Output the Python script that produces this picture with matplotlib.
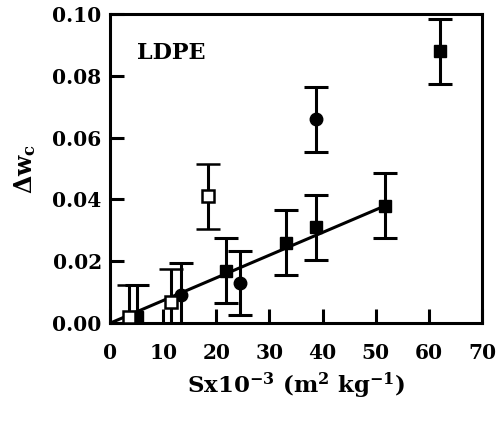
import numpy as np
import matplotlib
matplotlib.use("Agg")
from matplotlib import pyplot as plt

# open squares
open_sq_x = [3.5, 11.5, 18.5]
open_sq_y = [0.002, 0.007, 0.041]
# filled squares
sq_x = [5.0, 21.8, 33.2, 38.8, 51.8, 62.0]
sq_y = [0.002, 0.017, 0.026, 0.031, 0.038, 0.088]
# filled circles
circ_x = [13.3, 24.5, 38.8]
circ_y = [0.009, 0.013, 0.066]
err = 0.0105

fit_x = [0.0, 51.8]
fit_y = [0.0, 0.038]

plt.rcParams["font.family"] = ["DejaVu Serif"]
plt.rcParams["font.weight"] = "bold"
plt.rcParams["mathtext.fontset"] = "custom"
plt.rcParams["mathtext.rm"] = "DejaVu Serif:bold"
plt.rcParams["mathtext.bf"] = "DejaVu Serif:bold"
plt.rcParams["mathtext.it"] = "DejaVu Serif:bold"

fig = plt.figure(figsize=(4.98, 4.23), dpi=100)
ax = fig.add_axes([0.221, 0.236, 0.747, 0.731])

ax.plot(fit_x, fit_y, color="black", linewidth=2.2, zorder=2)

ebkw = dict(ecolor="black", elinewidth=2.2, capsize=8.5, capthick=2.2, linestyle="none", zorder=3)
ax.errorbar(sq_x, sq_y, yerr=err, marker="s", markersize=8, mfc="black", mec="black", **ebkw)
ax.errorbar(circ_x, circ_y, yerr=err, marker="o", markersize=9, mfc="black", mec="black", **ebkw)
ax.errorbar(open_sq_x, open_sq_y, yerr=err, marker="s", markersize=8, mfc="white", mec="black",
            mew=1.8, **ebkw)

ax.set_xlim(0, 70)
ax.set_ylim(0, 0.10)
ax.set_xticks(np.arange(0, 71, 10))
ax.set_yticks(np.arange(0, 0.101, 0.02))
ax.set_yticklabels([f"{v:.2f}" for v in np.arange(0, 0.101, 0.02)])
ax.tick_params(direction="in", length=10, width=2.2, labelsize=14.5)
ax.tick_params(axis="x", pad=14)
ax.tick_params(axis="y", pad=6)
for s in ax.spines.values():
    s.set_linewidth(2.2)

ax.text(5.0, 0.0875, "LDPE", fontsize=16, fontweight="bold", va="center")
ax.set_xlabel(r"Sx10$^{\mathbf{-3}}$ (m$^{\mathbf{2}}$ kg$^{\mathbf{-1}}$)", fontsize=16.5,
              fontweight="bold", labelpad=6)
ax.set_ylabel(r"$\mathbf{\Delta w_c}$", fontsize=17, labelpad=10)

fig.savefig("out.png", dpi=100)
